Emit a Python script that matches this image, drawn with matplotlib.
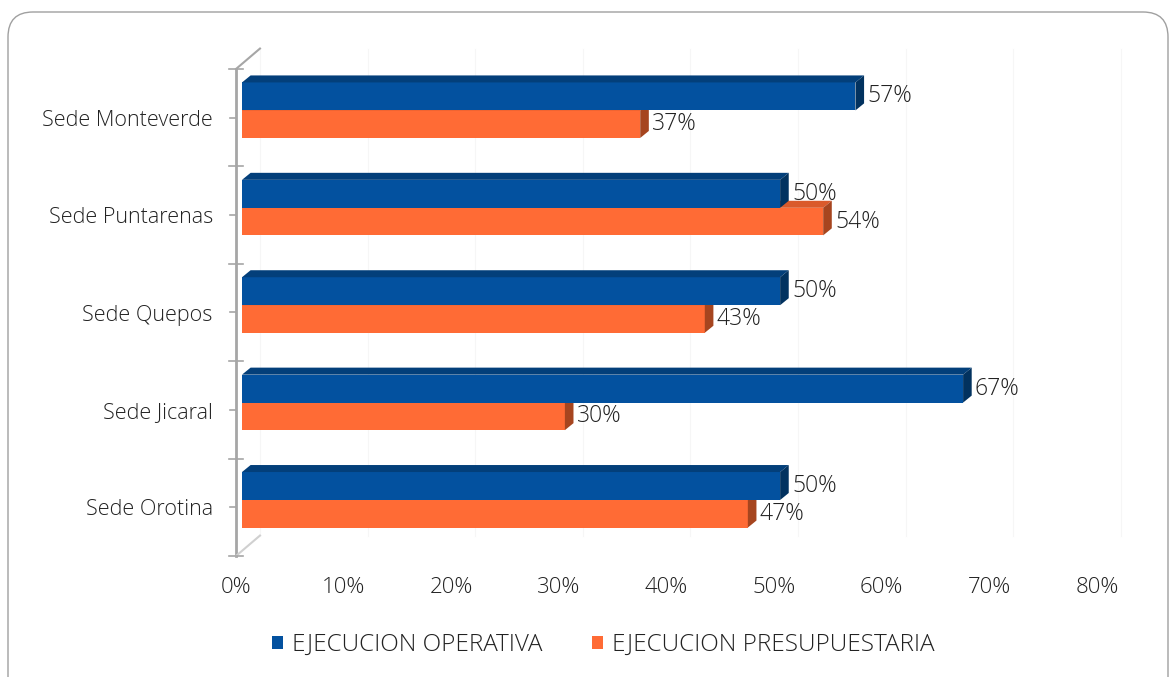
import numpy as np
import matplotlib
matplotlib.use("Agg")
import matplotlib.pyplot as plt
import matplotlib.transforms as mtransforms
from matplotlib.patches import Polygon, Patch, FancyBboxPatch

plt.rcParams["font.family"] = ["Open Sans", "DejaVu Sans"]
plt.rcParams["font.weight"] = "light"

# ---- data ----
sedes = ["Sede Monteverde", "Sede Puntarenas", "Sede Quepos", "Sede Jicaral", "Sede Orotina"]
operativa = [57, 50, 50, 67, 50]
presupuestaria = [37, 54, 43, 30, 47]
series_names = ["EJECUCION OPERATIVA", "EJECUCION PRESUPUESTARIA"]
xticks = [0, 10, 20, 30, 40, 50, 60, 70, 80]

BLUE, BLUE_TOP, BLUE_SIDE = "#03519F", "#033F7A", "#02325F"
ORANGE, ORANGE_TOP, ORANGE_SIDE = "#FF6B35", "#DA5A2B", "#A6451F"
TXT = "#222222"

DX, DY = 0.8, 0.072     # 3D depth of bars (x in %, y in category units)
BX, BY = 1.67, 0.21     # back wall offset

fig = plt.figure(figsize=(11.73, 6.77), dpi=100)
ax = fig.add_axes([242 / 1173, 121 / 677, 861 / 1173, 487 / 677])

ypos = np.arange(len(sedes))[::-1]


def bars3d(vals, bottoms, h, front, top_c, side_c, z):
    ax.barh(bottoms, vals, height=h, left=0, align="edge", color=front, zorder=z)
    for v, b in zip(vals, bottoms):
        t = b + h
        ax.add_patch(Polygon([(0, t), (v, t), (v + DX, t + DY), (DX, t + DY)],
                             closed=True, facecolor=top_c, edgecolor="none", zorder=z))
        ax.add_patch(Polygon([(v, b), (v, t), (v + DX, t + DY), (v + DX, b + DY)],
                             closed=True, facecolor=side_c, edgecolor="none", zorder=z))
        ax.text(v + DX + 0.3, b + h / 2, f"{v}%", ha="left", va="center",
                fontsize=16.5, color=TXT, zorder=10)


bars3d(presupuestaria, ypos - 0.208, 0.283, ORANGE, ORANGE_TOP, ORANGE_SIDE, 2)
bars3d(operativa, ypos + 0.075, 0.287, BLUE, BLUE_TOP, BLUE_SIDE, 3)

# back wall grid (very faint)
for t in xticks:
    ax.plot([t + BX, t + BX], [-0.5 + BY, 4.5 + BY], color="#f6f6f6", lw=0.8,
            zorder=0, clip_on=False)

# vertical axis with 3D corners
ax.plot([-0.56, -0.56], [-0.5, 4.5], color="#a6a6a6", lw=2, zorder=1, clip_on=False)
ax.plot([-0.56, BX], [4.5, 4.5 + BY], color="#a6a6a6", lw=1.5, zorder=1, clip_on=False)
ax.plot([-0.56, BX], [-0.5, -0.5 + BY], color="#d0d0d0", lw=1.5, zorder=1, clip_on=False)
for b in np.arange(-0.5, 5.0, 1.0):
    ax.plot([-1.2, 0.1], [b, b], color="#a6a6a6", lw=1.2, zorder=1, clip_on=False)
for c in ypos:
    ax.plot([-1.1, -0.56], [c, c], color="#a6a6a6", lw=1.2, zorder=1, clip_on=False)

ax.set_xlim(0, 80)
ax.set_ylim(-0.5, 4.5)
for s in ax.spines.values():
    s.set_visible(False)
ax.set_xticks(xticks)
ax.set_xticklabels([f"{t}%" for t in xticks], fontsize=16, color=TXT)
ax.set_yticks(ypos)
ax.set_yticklabels(sedes, fontsize=15.5, color=TXT)
ax.tick_params(axis="x", length=0, pad=15)
ax.tick_params(axis="y", length=0, pad=21)
shift = mtransforms.ScaledTranslation(-0.06, 0, fig.dpi_scale_trans)
for lab in ax.get_xticklabels():
    lab.set_transform(lab.get_transform() + shift)

handles = [Patch(facecolor=BLUE, label=series_names[0]),
           Patch(facecolor=ORANGE, label=series_names[1])]
leg = fig.legend(handles=handles, loc="center", bbox_to_anchor=(603 / 1173, 1 - 645 / 677),
                 ncol=2, frameon=False, fontsize=17.5, handlelength=0.45, handleheight=0.45,
                 handletextpad=0.37, columnspacing=2.05)
for t in leg.get_texts():
    t.set_color(TXT)

# rounded outer border
fig.patches.append(FancyBboxPatch((0.08, -0.3), 11.6, 6.95,
                                  boxstyle="round,pad=0,rounding_size=0.25",
                                  transform=fig.dpi_scale_trans, facecolor="none",
                                  edgecolor="#a0a0a0", lw=1.0))

fig.savefig("out.png", dpi=100)
